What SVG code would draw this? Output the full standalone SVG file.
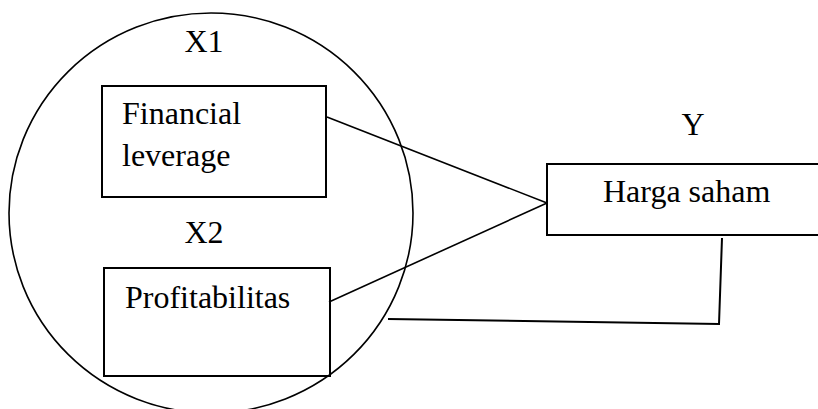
<svg xmlns="http://www.w3.org/2000/svg" width="818" height="409" viewBox="0 0 818 409">
<style>
.s{fill:none;stroke:#000;stroke-width:2}
.c{fill:none;stroke:#000;stroke-width:1.6}
text{font-family:"Liberation Serif","Times New Roman",serif;font-size:32px;fill:#000}
</style>
<rect width="818" height="409" fill="#fff"/>
<g id="group-x">
<ellipse class="c" cx="211" cy="213" rx="202" ry="200"/>
<text x="204" y="52" text-anchor="middle">X1</text>
<text x="204" y="243" text-anchor="middle">X2</text>
</g>
<g id="node-financial">
<rect class="s" x="102" y="86" width="224" height="111"/>
<text x="122" y="124">Financial</text>
<text x="122" y="166">leverage</text>
</g>
<g id="node-profit">
<rect class="s" x="104" y="268" width="226" height="108"/>
<text x="125" y="308">Profitabilitas</text>
</g>
<g id="node-harga">
<text x="693" y="135" text-anchor="middle">Y</text>
<rect class="s" x="547" y="164" width="275" height="71"/>
<text x="603" y="202">Harga saham</text>
</g>
<g id="connectors">
<line class="c" x1="327" y1="117" x2="547" y2="203"/>
<line class="c" x1="329" y1="302" x2="547" y2="203"/>
<polyline class="s" points="388,319 719,324 722,238"/>
</g>
</svg>
